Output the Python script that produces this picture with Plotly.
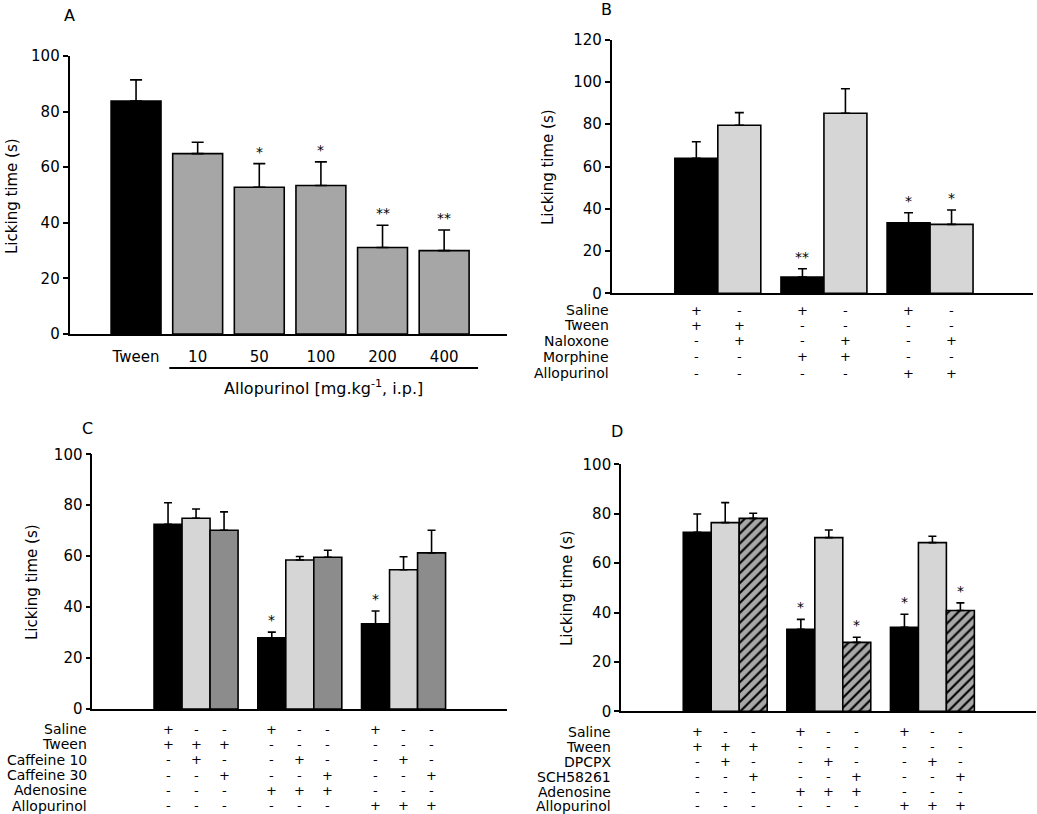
import plotly.graph_objects as go

W, H = 1037, 814
FONT = "DejaVu Sans, Liberation Sans, Arial, sans-serif"

# ---------------- data ----------------
# Panel A
a_labels = ["Tween", "10", "50", "100", "200", "400"]
a_mean = [83.8, 64.9, 52.8, 53.4, 31.1, 30.0]
a_err = [7.6, 4.1, 8.5, 8.5, 8.0, 7.4]
a_stars = ["", "", "*", "*", "**", "**"]
a_colors = ["#000000", "#a6a6a6", "#a6a6a6", "#a6a6a6", "#a6a6a6", "#a6a6a6"]

# Panel B (3 groups x 2 treatments)
b_black = [63.9, 7.7, 33.4]
b_black_err = [7.8, 3.9, 4.7]
b_grey = [79.5, 85.2, 32.6]
b_grey_err = [6.0, 11.6, 6.8]
b_black_stars = ["", "**", "*"]
b_grey_stars = ["", "", "*"]
b_rows = ["Saline", "Tween", "Naloxone", "Morphine", "Allopurinol"]
b_table = [
    ["+", "-", "+", "-", "+", "-"],
    ["+", "+", "-", "-", "-", "-"],
    ["-", "+", "-", "+", "-", "+"],
    ["-", "-", "+", "+", "-", "-"],
    ["-", "-", "-", "-", "+", "+"],
]

# Panel C (3 groups x 3 treatments)
c_black = [72.5, 28.0, 33.5]
c_black_err = [8.5, 2.2, 5.0]
c_light = [74.9, 58.5, 54.7]
c_light_err = [3.6, 1.4, 5.1]
c_dark = [70.2, 59.6, 61.3]
c_dark_err = [7.2, 2.7, 8.9]
c_black_stars = ["", "*", "*"]
c_rows = ["Saline", "Tween", "Caffeine 10", "Caffeine 30", "Adenosine", "Allopurinol"]
c_table = [
    ["+", "-", "-", "+", "-", "-", "+", "-", "-"],
    ["+", "+", "+", "-", "-", "-", "-", "-", "-"],
    ["-", "+", "-", "-", "+", "-", "-", "+", "-"],
    ["-", "-", "+", "-", "-", "+", "-", "-", "+"],
    ["-", "-", "-", "+", "+", "+", "-", "-", "-"],
    ["-", "-", "-", "-", "-", "-", "+", "+", "+"],
]

# Panel D (3 groups x 3 treatments)
d_black = [72.5, 33.2, 34.0]
d_black_err = [7.4, 4.0, 5.3]
d_light = [76.4, 70.3, 68.3]
d_light_err = [8.1, 3.1, 2.6]
d_hatch = [78.1, 27.9, 40.8]
d_hatch_err = [2.1, 2.1, 3.1]
d_black_stars = ["", "*", "*"]
d_hatch_stars = ["", "*", "*"]
d_rows = ["Saline", "Tween", "DPCPX", "SCH58261", "Adenosine", "Allopurinol"]
d_table = c_table

groups = [0, 1, 2]

# ---------------- helpers ----------------
def px(x):
    return x / W


def py(y):
    return 1 - y / H


def errbar(err, width):
    return dict(type="data", array=err, arrayminus=[0] * len(err), symmetric=False,
                color="black", thickness=1.6, width=width, visible=True)


BARLINE = dict(color="black", width=1.6)
fig = go.Figure()
annotations = []
shapes = []

# ---------------- panel A ----------------
a_x = list(range(len(a_labels)))
fig.add_trace(go.Bar(x=a_x, y=a_mean, marker=dict(color=a_colors, line=BARLINE),
                     error_y=errbar(a_err, 6), xaxis="x", yaxis="y", showlegend=False))
for xi, m, e, s in zip(a_x, a_mean, a_err, a_stars):
    if s:
        annotations.append(dict(x=xi, y=m + e, xref="x", yref="y", text=s, showarrow=False,
                                yshift=12, font=dict(size=14)))

# ---------------- panel B ----------------
fig.add_trace(go.Bar(x=groups, y=b_black, marker=dict(color="#000000", line=BARLINE),
                     error_y=errbar(b_black_err, 4.5), offsetgroup="b1",
                     xaxis="x2", yaxis="y2", showlegend=False))
fig.add_trace(go.Bar(x=groups, y=b_grey, marker=dict(color="#d6d6d6", line=BARLINE),
                     error_y=errbar(b_grey_err, 4.5), offsetgroup="b2",
                     xaxis="x2", yaxis="y2", showlegend=False))

# ---------------- panel C ----------------
fig.add_trace(go.Bar(x=groups, y=c_black, marker=dict(color="#000000", line=BARLINE),
                     error_y=errbar(c_black_err, 4), offsetgroup="c1",
                     xaxis="x3", yaxis="y3", showlegend=False))
fig.add_trace(go.Bar(x=groups, y=c_light, marker=dict(color="#d6d6d6", line=BARLINE),
                     error_y=errbar(c_light_err, 4), offsetgroup="c2",
                     xaxis="x3", yaxis="y3", showlegend=False))
fig.add_trace(go.Bar(x=groups, y=c_dark, marker=dict(color="#8c8c8c", line=BARLINE),
                     error_y=errbar(c_dark_err, 4), offsetgroup="c3",
                     xaxis="x3", yaxis="y3", showlegend=False))

# ---------------- panel D ----------------
fig.add_trace(go.Bar(x=groups, y=d_black, marker=dict(color="#000000", line=BARLINE),
                     error_y=errbar(d_black_err, 4), offsetgroup="d1",
                     xaxis="x4", yaxis="y4", showlegend=False))
fig.add_trace(go.Bar(x=groups, y=d_light, marker=dict(color="#d6d6d6", line=BARLINE),
                     error_y=errbar(d_light_err, 4), offsetgroup="d2",
                     xaxis="x4", yaxis="y4", showlegend=False))
fig.add_trace(go.Bar(x=groups, y=d_hatch,
                     marker=dict(color="#a8a8a8", line=BARLINE,
                                 pattern=dict(shape="/", fgcolor="black", bgcolor="#a8a8a8",
                                              size=7, solidity=0.3)),
                     error_y=errbar(d_hatch_err, 4), offsetgroup="d3",
                     xaxis="x4", yaxis="y4", showlegend=False))

GROUP_W = 0.81


def bar_center(g, k, n):
    w = GROUP_W / n
    return g + (k - (n - 1) / 2) * w


def add_stars(xref, yref, means, errs, stars, k, n):
    for g, m, e, s in zip(groups, means, errs, stars):
        if s:
            annotations.append(dict(x=bar_center(g, k, n), y=m + e, xref=xref, yref=yref, text=s,
                                    showarrow=False, yshift=12, font=dict(size=14)))


add_stars("x2", "y2", b_black, b_black_err, b_black_stars, 0, 2)
add_stars("x2", "y2", b_grey, b_grey_err, b_grey_stars, 1, 2)
add_stars("x3", "y3", c_black, c_black_err, c_black_stars, 0, 3)
add_stars("x4", "y4", d_black, d_black_err, d_black_stars, 0, 3)
add_stars("x4", "y4", d_hatch, d_hatch_err, d_hatch_stars, 2, 3)


def add_table(xref, rows, table, n, label_x, row_ys):
    for r, (name, vals) in enumerate(zip(rows, table)):
        annotations.append(dict(x=px(label_x), y=py(row_ys[r]), xref="paper", yref="paper",
                                text=name, showarrow=False, xanchor="right", yanchor="middle",
                                font=dict(size=14)))
        for i, v in enumerate(vals):
            g, k = divmod(i, n)
            annotations.append(dict(x=bar_center(g, k, n), y=py(row_ys[r]), xref=xref,
                                    yref="paper", text=v, showarrow=False, yanchor="middle",
                                    font=dict(size=13)))


add_table("x2", b_rows, b_table, 2, 611, [310, 325.5, 341, 356.7, 373])
add_table("x3", c_rows, c_table, 3, 89, [729, 744, 759.7, 775, 790, 805.5])
add_table("x4", d_rows, d_table, 3, 613, [731.7, 746.7, 761.7, 776.7, 791.7, 805.5])

# panel letters
for letter, x, y in [("A", 69, 15), ("B", 606, 9), ("C", 87, 428), ("D", 617, 432)]:
    annotations.append(dict(x=px(x), y=py(y), xref="paper", yref="paper", text=letter,
                            showarrow=False, xanchor="center", yanchor="middle",
                            font=dict(size=16)))

# y titles
for x, y in [(12, 196), (548, 167), (32, 582), (567, 588)]:
    annotations.append(dict(x=px(x), y=py(y), xref="paper", yref="paper",
                            text="Licking time (s)", textangle=-90, showarrow=False,
                            xanchor="center", yanchor="middle", font=dict(size=15)))

# panel A group label
shapes.append(dict(type="line", xref="x", yref="paper", x0=0.54, x1=5.55,
                   y0=py(368), y1=py(368), line=dict(color="black", width=2)))
annotations.append(dict(x=px(323), y=py(387), xref="paper", yref="paper",
                        text="Allopurinol [mg.kg<sup>-1</sup>, i.p.]", showarrow=False,
                        xanchor="center", yanchor="middle", font=dict(size=16)))

# ---------------- axes ----------------
def xaxis(dom, rng, **kw):
    d = dict(domain=[px(dom[0]), px(dom[1])], range=rng, showline=True, linecolor="black",
             linewidth=1.6, ticks="", showgrid=False, zeroline=False, fixedrange=True,
             automargin=False)
    d.update(kw)
    return d


def yaxis(dom, rng, dtick, anchor):
    return dict(domain=[py(dom[1]), py(dom[0])], range=rng, dtick=dtick, tick0=0,
                showline=True, linecolor="black", linewidth=1.6, ticks="outside",
                ticklen=5, tickwidth=1.6, tickcolor="black", showgrid=False, zeroline=False,
                anchor=anchor, tickfont=dict(size=15), fixedrange=True, automargin=False)


layout = dict(
    template="none",
    width=W, height=H, margin=dict(l=0, r=0, t=0, b=0, pad=0), autosize=False,
    paper_bgcolor="white", plot_bgcolor="white",
    font=dict(family=FONT, color="black"),
    barmode="group", bargap=0.19, bargroupgap=0,
    showlegend=False,
    xaxis=xaxis((69.5, 507), [-1.08, 6.02], anchor="y", tickvals=a_x, ticktext=a_labels,
                tickfont=dict(size=15), ticklabelstandoff=8),
    yaxis=yaxis((56, 334), [0, 100], 20, "x"),
    xaxis2=xaxis((611.7, 1033), [-1.0, 2.97], anchor="y2", showticklabels=False),
    yaxis2=yaxis((39.7, 293.3), [0, 120], 20, "x2"),
    xaxis3=xaxis((92.3, 507.3), [-1.0, 3.0], anchor="y3", showticklabels=False),
    yaxis3=yaxis((454.3, 709), [0, 100], 20, "x3"),
    xaxis4=xaxis((621, 1036), [-1.006, 3.0], anchor="y4", showticklabels=False),
    yaxis4=yaxis((464.3, 711.3), [0, 100], 20, "x4"),
    annotations=annotations, shapes=shapes,
)
fig.update_layout(**layout)
fig.write_html("out.html", config={"displayModeBar": False},
               post_script="document.body.style.margin='0';document.body.style.overflow='hidden';")
